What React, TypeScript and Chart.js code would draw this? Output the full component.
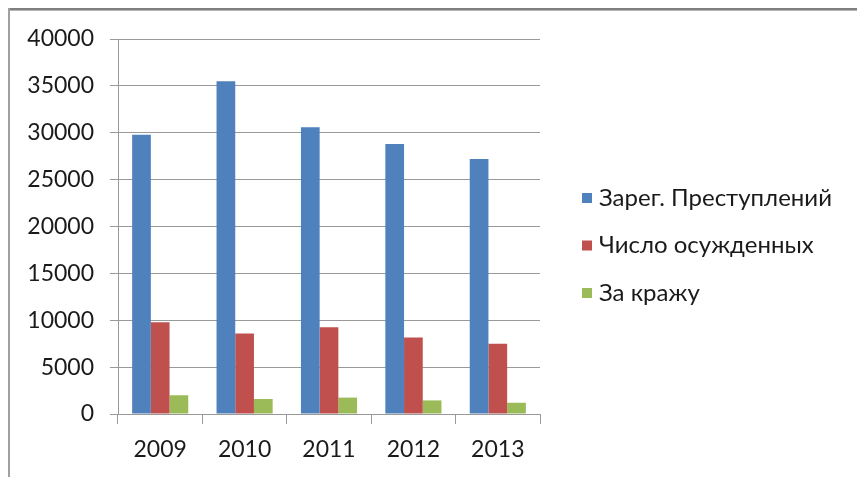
import React, { useEffect, useRef } from "react";
import { Chart, registerables } from "chart.js";

Chart.register(...registerables);

const categories = ["2009", "2010", "2011", "2012", "2013"];
const seriesNames = ["Зарег. Преступлений", "Число осужденных", "За кражу"];
const registered = [29800, 35500, 30600, 28800, 27200];
const convicted = [9800, 8600, 9250, 8150, 7500];
const theft = [2000, 1600, 1750, 1450, 1200];
const seriesColors = ["#4F81BD", "#C0504D", "#9BBB59"];
const yMin = 0;
const yMax = 40000;
const yStep = 5000;

const FONT = "Lato, 'Open Sans', sans-serif";

const framePlugin = {
  id: "frame",
  beforeDraw(chart: any) {
    const ctx = chart.ctx;
    ctx.save();
    ctx.fillStyle = "#ffffff";
    ctx.fillRect(0, 0, chart.width, chart.height);
    ctx.fillStyle = "#7f7f7f";
    ctx.fillRect(8, 8, chart.width - 8, 2);
    ctx.fillStyle = "#b5b5b5";
    ctx.fillRect(8, 10, chart.width - 8, 1);
    ctx.fillStyle = "#a0a0a0";
    ctx.fillRect(8, 8, 2, chart.height - 8);
    ctx.restore();
  },
};

const legendPlugin = {
  id: "customLegend",
  afterDraw(chart: any) {
    const ctx = chart.ctx;
    ctx.save();
    ctx.font = `24px ${FONT}`;
    ctx.textBaseline = "middle";
    ctx.textAlign = "left";
    chart.data.datasets.forEach((ds: any, i: number) => {
      const y = 198 + i * 47.5;
      ctx.fillStyle = ds.backgroundColor;
      ctx.fillRect(582, y - 5, 10, 10);
      ctx.fillStyle = "#1a1a1a";
      ctx.fillText(ds.label, 599, y);
    });
    ctx.restore();
  },
};

export default function App() {
  const ref = useRef<HTMLCanvasElement | null>(null);
  useEffect(() => {
    if (!ref.current) return;
    const chart = new Chart(ref.current, {
      type: "bar",
      data: {
        labels: categories,
        datasets: [registered, convicted, theft].map((d, i) => ({
          label: seriesNames[i],
          data: d,
          backgroundColor: seriesColors[i],
          borderWidth: 0,
          categoryPercentage: 0.665,
          barPercentage: 1,
        })),
      },
      options: {
        responsive: false,
        animation: false,
        devicePixelRatio: 1,
        layout: { padding: { left: 0, right: 317, top: 39, bottom: 0 } },
        plugins: { legend: { display: false }, tooltip: { enabled: false } },
        scales: {
          x: {
            grid: {
              offset: true,
              drawOnChartArea: false,
              drawTicks: true,
              tickLength: 10,
              color: "#999999",
            },
            border: { color: "#999999", width: 1 },
            ticks: {
              font: { family: FONT, size: 23 },
              color: "#1a1a1a",
              padding: 12,
            },
            afterFit(scale: any) {
              scale.height = 63;
            },
          },
          y: {
            min: yMin,
            max: yMax,
            ticks: {
              stepSize: yStep,
              font: { family: FONT, size: 23 },
              color: "#1a1a1a",
              padding: 16,
              callback: (v: any) => String(v),
            },
            grid: { color: "#999999", tickLength: 8 },
            border: { color: "#999999", width: 1 },
            afterFit(scale: any) {
              scale.width = 118;
            },
          },
        },
      },
      plugins: [framePlugin, legendPlugin],
    });
    return () => chart.destroy();
  }, []);
  return (
    <div style={{ position: "absolute", left: 0, top: 0, width: 857, height: 477 }}>
      <canvas ref={ref} width={857} height={477} />
    </div>
  );
}
